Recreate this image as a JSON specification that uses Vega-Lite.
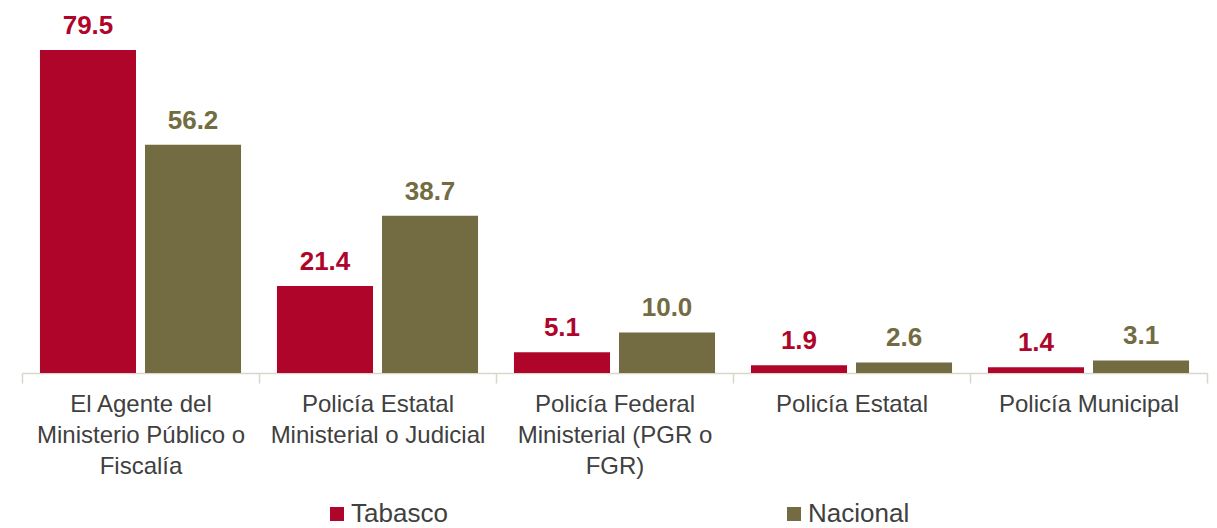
{
  "$schema": "https://vega.github.io/schema/vega-lite/v6.json",
  "width": 1185,
  "height": 325,
  "autosize": "none",
  "padding": {"left": 22, "top": 48, "right": 10, "bottom": 155},
  "background": "white",
  "config": {"view": {"stroke": null}, "font": "Liberation Sans"},
  "data": {
    "values": [
      {"cat": "El Agente del|Ministerio Público o|Fiscalía", "serie": "Tabasco", "valor": 79.5},
      {"cat": "El Agente del|Ministerio Público o|Fiscalía", "serie": "Nacional", "valor": 56.2},
      {"cat": "Policía Estatal|Ministerial o Judicial", "serie": "Tabasco", "valor": 21.4},
      {"cat": "Policía Estatal|Ministerial o Judicial", "serie": "Nacional", "valor": 38.7},
      {"cat": "Policía Federal|Ministerial (PGR o|FGR)", "serie": "Tabasco", "valor": 5.1},
      {"cat": "Policía Federal|Ministerial (PGR o|FGR)", "serie": "Nacional", "valor": 10.0},
      {"cat": "Policía Estatal", "serie": "Tabasco", "valor": 1.9},
      {"cat": "Policía Estatal", "serie": "Nacional", "valor": 2.6},
      {"cat": "Policía Municipal", "serie": "Tabasco", "valor": 1.4},
      {"cat": "Policía Municipal", "serie": "Nacional", "valor": 3.1}
    ]
  },
  "encoding": {
    "x": {
      "field": "cat",
      "type": "nominal",
      "sort": ["El Agente del|Ministerio Público o|Fiscalía", "Policía Estatal|Ministerial o Judicial", "Policía Federal|Ministerial (PGR o|FGR)", "Policía Estatal", "Policía Municipal"],
      "scale": {"paddingInner": 0, "paddingOuter": 0},
      "axis": {
        "title": null,
        "labelAngle": 0,
        "labelExpr": "split(datum.label, '|')",
        "labelFontSize": 24,
        "labelLineHeight": 31,
        "labelLimit": 0,
        "labelColor": "#404040",
        "labelPadding": 9,
        "domainColor": "#D9D7C7",
        "domainWidth": 1.5,
        "tickColor": "#D9D7C7",
        "tickWidth": 1.5,
        "tickSize": 10,
        "tickBand": "extent"
      }
    },
    "xOffset": {
      "field": "serie",
      "sort": ["Tabasco", "Nacional"],
      "scale": {"paddingInner": 0.0857, "paddingOuter": 0.171}
    },
    "y": {
      "field": "valor",
      "type": "quantitative",
      "scale": {"domain": [0, 80]},
      "axis": null
    },
    "color": {
      "field": "serie",
      "type": "nominal",
      "sort": ["Tabasco", "Nacional"],
      "scale": {"domain": ["Tabasco", "Nacional"], "range": ["#B0052B", "#736B41"]},
      "legend": {
        "title": null,
        "orient": "none",
        "legendX": 302,
        "legendY": 453,
        "direction": "horizontal",
        "symbolType": "square",
        "symbolSize": 196,
        "symbolStrokeWidth": 0,
        "labelFontSize": 26,
        "labelColor": "#404040",
        "labelOffset": 1,
        "columnPadding": 333
      }
    }
  },
  "layer": [
    {"mark": {"type": "bar"}},
    {
      "mark": {"type": "text", "fontWeight": "bold", "fontSize": 26, "baseline": "alphabetic", "dy": -16},
      "encoding": {"text": {"field": "valor", "type": "quantitative", "format": ".1f"}}
    }
  ]
}
